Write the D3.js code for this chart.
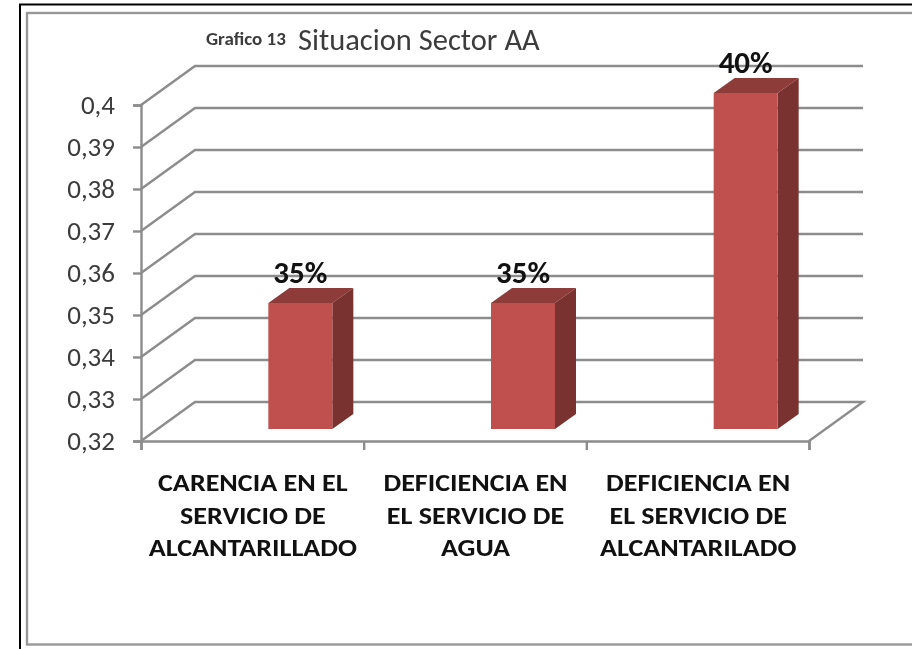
<!DOCTYPE html>
<html>
<head>
<meta charset="utf-8">
<script src="https://cdn.jsdelivr.net/npm/d3@7"></script>
<style>
  html, body { margin: 0; padding: 0; background: #fff; overflow: hidden; }
  text { font-family: Carlito, Lato, "Open Sans", sans-serif; }
  /* the reference is a soft, upscaled screenshot */
  svg { filter: blur(0.55px); }
</style>
</head>
<body>
<div id="chart"></div>
<script>
// chart values
var categories = [
  ["CARENCIA EN EL", "SERVICIO DE", "ALCANTARILLADO"],
  ["DEFICIENCIA EN", "EL SERVICIO DE", "AGUA"],
  ["DEFICIENCIA EN", "EL SERVICIO DE", "ALCANTARILADO"]
];
var values = [0.35, 0.35, 0.4];
var barLabels = ["35%", "35%", "40%"];
var yTicks = [0.32, 0.33, 0.34, 0.35, 0.36, 0.37, 0.38, 0.39, 0.4];

var width = 912, height = 649;
var margin = {left: 141, right: 809, top: 105, bottom: 441};
var depthX = 54, depthY = 39;          // offset of the back wall
var barW = 64, barDX = 21, barDY = 15; // bar front width and its depth

var svg = d3.select("#chart").append("svg")
  .attr("width", width)
  .attr("height", height)
  .style("display", "block");

// outer frames
svg.append("rect").attr("x", 20).attr("y", 4.5).attr("width", 920).attr("height", 660)
  .attr("fill", "#fff").attr("stroke", "#000").attr("stroke-width", 2);
svg.append("rect").attr("x", 27).attr("y", 13).attr("width", 900).attr("height", 631.5)
  .attr("fill", "#fff").attr("stroke", "#989898").attr("stroke-width", 2.4);

var x = d3.scaleBand().domain(d3.range(categories.length)).range([margin.left, margin.right]);
var y = d3.scaleLinear().domain([0.32, 0.4]).range([margin.bottom, margin.top]);

var gridColor = "#8c8c8c";

// gridlines: slanted side wall + back wall
var grid = svg.append("g").attr("fill", "none").attr("stroke", gridColor).attr("stroke-width", 2.4);
grid.selectAll("path").data(yTicks).enter().append("path")
  .attr("d", function(d) {
    var p = d3.path();
    p.moveTo(margin.left, y(d));
    p.lineTo(margin.left + depthX, y(d) - depthY);
    p.lineTo(margin.right + depthX, y(d) - depthY);
    if (d === 0.32) p.lineTo(margin.right, y(d));
    return p.toString();
  });

// y axis
var yAxis = d3.axisLeft(y).tickValues(yTicks).tickSize(8).tickPadding(18)
  .tickFormat(function(d) { return String(d).replace(".", ","); });
var gy = svg.append("g").attr("transform", "translate(" + margin.left + ",0)").call(yAxis);
gy.select(".domain").attr("stroke", gridColor).attr("stroke-width", 2.4);
gy.selectAll(".tick line").attr("stroke", gridColor).attr("stroke-width", 2.4);
gy.selectAll(".tick text").attr("fill", "#3c3c3c").style("font-size", "27px");

// x axis, ticks sit at the band edges
var xAxis = d3.axisBottom(d3.scaleLinear().domain([0, 3]).range([margin.left, margin.right]))
  .ticks(3).tickSize(9).tickFormat("");
var gx = svg.append("g").attr("transform", "translate(0," + margin.bottom + ")").call(xAxis);
gx.select(".domain").attr("stroke", gridColor).attr("stroke-width", 2.4);
gx.selectAll(".tick line").attr("stroke", gridColor).attr("stroke-width", 2.4);

// bars
var bars = svg.append("g").selectAll("g").data(values).enter().append("g");
function barX(i) { return x(i) + x.bandwidth() / 2 - barW / 2 + 48; }
function barTop(d) { return y(d) - 12; }
var barBottom = y(0.32) - 12;

bars.append("path").attr("fill", "#8e3c3a").attr("d", function(d, i) {
  var bx = barX(i), t = barTop(d);
  return "M" + bx + "," + t + "l" + barDX + "," + (-barDY) + "h" + barW + "l" + (-barDX) + "," + barDY + "z";
});
bars.append("path").attr("fill", "#7a3230").attr("d", function(d, i) {
  var bx = barX(i) + barW, t = barTop(d);
  return "M" + bx + "," + t + "l" + barDX + "," + (-barDY) + "V" + (barBottom - barDY) + "l" + (-barDX) + "," + barDY + "z";
});
bars.append("rect").attr("fill", "#c0504d")
  .attr("x", function(d, i) { return barX(i); })
  .attr("y", function(d) { return barTop(d); })
  .attr("width", barW)
  .attr("height", function(d) { return barBottom - barTop(d); });

bars.append("text")
  .attr("x", function(d, i) { return barX(i) + barW / 2; })
  .attr("y", function(d) { return barTop(d) - 20; })
  .attr("text-anchor", "middle")
  .attr("fill", "#111")
  .style("font-size", "31px")
  .style("font-weight", "bold")
  .text(function(d, i) { return barLabels[i]; });

// category labels, squeezed font stretched sideways like the reference
var cat = svg.append("g").selectAll("text").data(categories).enter().append("text")
  .attr("transform", function(d, i) {
    return "translate(" + (x(i) + x.bandwidth() / 2 + 0.5) + ",0) scale(1.17,1)";
  })
  .attr("text-anchor", "middle")
  .attr("fill", "#111")
  .style("font-size", "24px")
  .style("font-weight", "bold");
cat.selectAll("tspan").data(function(d) { return d; })
  .enter().append("tspan")
  .attr("x", 0)
  .attr("y", function(d, j) { return 491.5 + j * 32.5; })
  .text(function(d) { return d; });

// title
svg.append("text").attr("x", 206).attr("y", 45).attr("fill", "#3c3c3c")
  .style("font-size", "19px").style("font-weight", "bold").text("Grafico 13");
svg.append("text").attr("x", 298).attr("y", 50).attr("fill", "#3c3c3c")
  .style("font-size", "30.5px").text("Situacion Sector AA");
</script>
</body>
</html>
